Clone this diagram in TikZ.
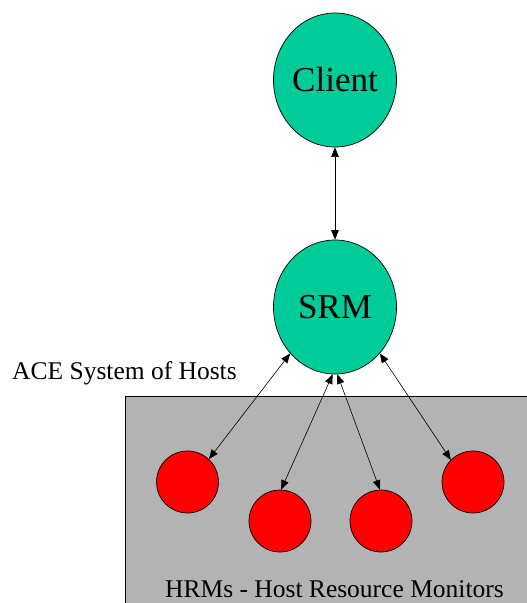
\documentclass[tikz,border=0pt]{standalone}
\usepackage{fontspec}
\setmainfont{Liberation Serif}
\usetikzlibrary{shapes.geometric,arrows.meta}
\definecolor{teal}{RGB}{0,204,153}
\definecolor{hostgray}{RGB}{179,179,179}
\tikzset{
  bignode/.style={ellipse,draw=black,line width=0.7pt,fill=teal,minimum width=123pt,minimum height=134pt,inner sep=0pt,font=\fontsize{35}{40}\selectfont},
  hrm/.style={circle,draw=black,line width=0.7pt,fill=red,minimum size=62pt,inner sep=0pt},
  link/.style={line width=0.6pt,{Triangle[length=9.5pt,width=7.5pt]}-{Triangle[length=9.5pt,width=7.5pt]}},
  lbl/.style={font=\fontsize{25.5}{30}\selectfont,inner sep=0pt,anchor=base west}
}
\begin{document}
\begin{tikzpicture}[x=1pt,y=-1pt]
\useasboundingbox (0,0) rectangle (527,603);
\fill[white] (0,0) rectangle (527,603);
\fill[hostgray] (125,396) rectangle (527,603);
\draw[line width=0.7pt] (125,603) -- (125,396) -- (527,396);
\node[bignode] (client) at (335,80) {Client};
\node[bignode] (srm) at (335,307) {SRM};
\node[hrm] (h1) at (187.5,482) {};
\node[hrm] (h2) at (280,521) {};
\node[hrm] (h3) at (381,521) {};
\node[hrm] (h4) at (473,482) {};
\node[lbl] (ace) at (12,379) {ACE System of Hosts};
\node[lbl] (hrms) at (165,597) {HRMs - Host Resource Monitors};
\draw[link] (client.south) -- (srm.north);
\draw[link] (srm.226) -- (h1.47);
\draw[link] (srm.268) -- (h2.88);
\draw[link] (srm.272) -- (h3.92);
\draw[link] (srm.314) -- (h4.135);
\end{tikzpicture}
\end{document}
